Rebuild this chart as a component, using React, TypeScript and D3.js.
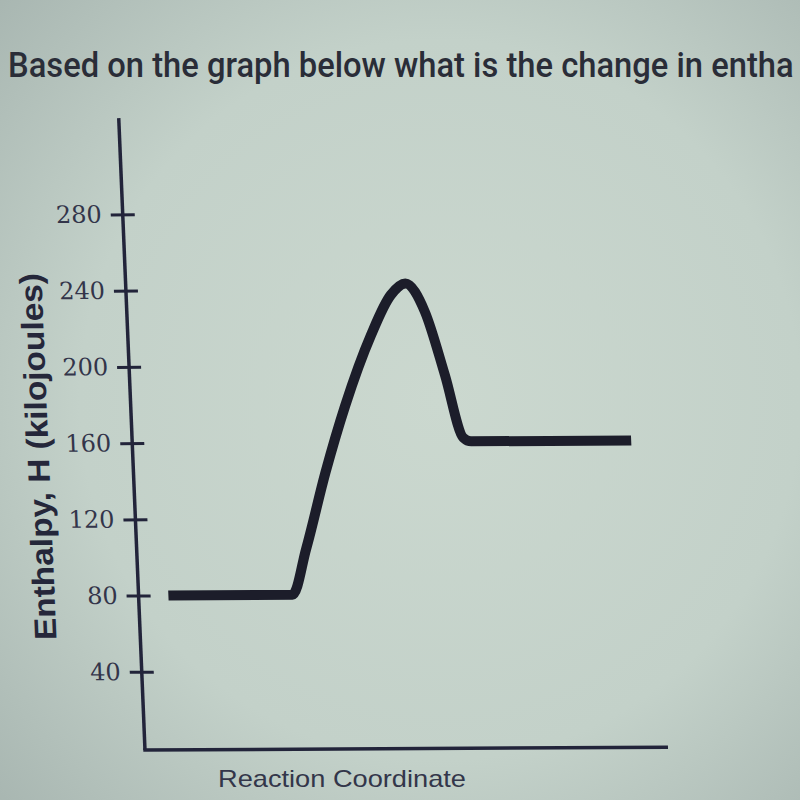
import React, { useEffect, useRef } from "react";
import * as d3 from "d3";

const yTicks = [40, 80, 120, 160, 200, 240, 280];
const reactionX = [5.7, 29.4, 32.4, 36.7, 41, 46.5, 50.6, 53.5, 57, 60.3, 63.3, 64.8, 95.4];
const enthalpyY = [80, 80, 104, 144, 179, 216, 237, 243, 228, 195, 162, 160, 160];
const yTitle = "Enthalpy, H (kilojoules)";
const xTitle = "Reaction Coordinate";
const header = "Based on the graph below what is the change in entha";

export default function App() {
  const ref = useRef<SVGSVGElement>(null);

  useEffect(() => {
    const svg = d3.select(ref.current);
    svg.selectAll("*").remove();

    const defs = svg.append("defs");
    const rg = defs
      .append("radialGradient")
      .attr("id", "bg")
      .attr("cx", "0.55")
      .attr("cy", "0.5")
      .attr("r", "0.75");
    rg.append("stop").attr("offset", "0").attr("stop-color", "#cbd8cf");
    rg.append("stop").attr("offset", "0.6").attr("stop-color", "#c3d1c9");
    rg.append("stop").attr("offset", "1").attr("stop-color", "#a8b6b1");

    svg.append("rect").attr("width", 800).attr("height", 800).attr("fill", "url(#bg)");

    const head = svg
      .append("text")
      .attr("x", 0)
      .attr("y", 0)
      .attr("font-family", "Roboto, 'Noto Sans', sans-serif")
      .attr("font-weight", 500)
      .attr("font-size", 36)
      .attr("fill", "#2a2d38")
      .text(header);
    const node = head.node() as SVGTextElement;
    const w = node.getComputedTextLength() || 900;
    head.attr("transform", `translate(8,77) scale(${786 / w},1)`);

    const x0 = 145;
    const yBase = 750;
    const x = d3.scaleLinear().domain([0, 100]).range([x0, 668]);
    const y = d3.scaleLinear().domain([0, 330]).range([748, 119]);

    const g = svg
      .append("g")
      .attr(
        "transform",
        `translate(${x0},${yBase}) rotate(-0.3) skewX(2.08) translate(${-x0},${-yBase})`
      );

    const yAxis = d3
      .axisLeft(y)
      .tickValues(yTicks)
      .tickSize(12)
      .tickPadding(9)
      .tickFormat(d3.format("d"));
    const ya = g.append("g").attr("transform", `translate(${x0},0)`).call(yAxis);
    ya.select(".domain").remove();
    ya.selectAll(".tick line")
      .attr("x1", 12)
      .attr("x2", -12)
      .attr("stroke", "#22243a")
      .attr("stroke-width", 3);
    ya.selectAll(".tick text")
      .attr("font-family", "'DejaVu Serif', serif")
      .attr("font-size", 24)
      .attr("fill", "#33354a");

    g.append("line")
      .attr("x1", x0)
      .attr("x2", x0)
      .attr("y1", 118)
      .attr("y2", yBase)
      .attr("stroke", "#22243a")
      .attr("stroke-width", 3.5);
    g.append("line")
      .attr("x1", x0 - 1.75)
      .attr("x2", 668)
      .attr("y1", yBase)
      .attr("y2", yBase)
      .attr("stroke", "#22243a")
      .attr("stroke-width", 3.5);

    const pts = reactionX.map((v, i) => [v, enthalpyY[i]] as [number, number]);
    const line = d3
      .line<[number, number]>()
      .x((d) => x(d[0]))
      .y((d) => y(d[1]))
      .curve(d3.curveMonotoneX);
    g.append("path")
      .attr("d", line(pts))
      .attr("fill", "none")
      .attr("stroke", "#1c1d2a")
      .attr("stroke-width", 10)
      .attr("stroke-linejoin", "round");

    g.append("text")
      .attr("transform", "translate(61,456) rotate(-90)")
      .attr("text-anchor", "middle")
      .attr("font-family", "'Liberation Sans', Arial, sans-serif")
      .attr("font-weight", "bold")
      .attr("font-size", 31)
      .attr("fill", "#25273a")
      .attr("textLength", 367)
      .attr("lengthAdjust", "spacingAndGlyphs")
      .text(yTitle);

    svg
      .append("text")
      .attr("x", 218)
      .attr("y", 787)
      .attr("font-family", "'Liberation Sans', Arial, sans-serif")
      .attr("font-size", 24)
      .attr("fill", "#33364a")
      .attr("textLength", 248)
      .attr("lengthAdjust", "spacingAndGlyphs")
      .text(xTitle);
  }, []);

  return (
    <svg
      ref={ref}
      width={800}
      height={800}
      style={{ position: "absolute", left: 0, top: 0, display: "block" }}
    />
  );
}
